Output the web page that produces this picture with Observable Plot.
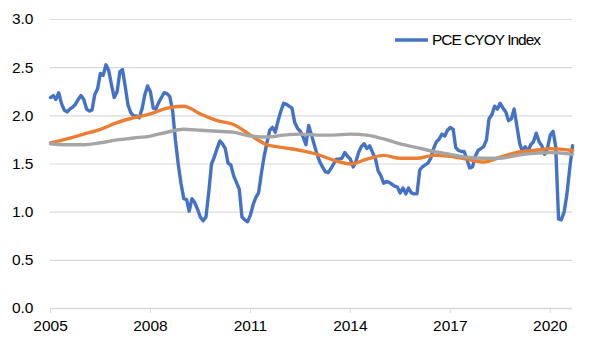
<!DOCTYPE html>
<html>
<head>
<meta charset="utf-8">
<script src="https://cdn.jsdelivr.net/npm/d3@7"></script>
<script src="https://cdn.jsdelivr.net/npm/@observablehq/plot@0.6"></script>
<style>
  body { margin: 0; background: #fff; font-family: "Liberation Sans", Arial, sans-serif; }
  #wrap { position: relative; width: 589px; height: 352px; }
  #legend { position: absolute; left: 395px; top: 31px; display: flex; align-items: center;
            font-size: 15.5px; letter-spacing: -1.0px; color: #000; white-space: nowrap; }
  #legend svg { margin-right: 4px; }
</style>
</head>
<body>
<div id="wrap">
  <div id="legend"><svg width="33" height="6"><line x1="0" y1="3" x2="33" y2="3" stroke="#4472C4" stroke-width="3.4"/></svg><span>PCE CYOY Index</span></div>
</div>
<script>
// PCE CYOY Index, monthly from Jan 2005
const pceStart = [2005, 0];
const pceValues = [
  2.19, 2.21, 2.17, 2.24, 2.13, 2.06, 2.04, 2.07, 2.09, 2.12, 2.17, 2.21,
  2.17, 2.07, 2.05, 2.06, 2.22, 2.28, 2.44, 2.42, 2.53, 2.47, 2.32, 2.19,
  2.25, 2.46, 2.48, 2.30, 2.11, 2.03, 2.00, 2.00, 1.98, 2.07, 2.22, 2.31,
  2.25, 2.08, 2.07, 2.14, 2.19, 2.24, 2.23, 2.20, 2.05, 1.75, 1.50, 1.30,
  1.14, 1.13, 1.01, 1.14, 1.10, 1.03, 0.95, 0.91, 0.95, 1.20, 1.50, 1.57,
  1.66, 1.74, 1.71, 1.66, 1.51, 1.49, 1.38, 1.31, 1.24, 0.95, 0.92, 0.90,
  0.97, 1.08, 1.15, 1.20, 1.40, 1.58, 1.72, 1.85, 1.88, 1.83, 1.95, 2.05,
  2.13, 2.12, 2.10, 2.08, 1.93, 1.87, 1.84, 1.78, 1.70, 1.90, 1.80, 1.70,
  1.60, 1.52, 1.47, 1.42, 1.41, 1.45, 1.50, 1.55, 1.55, 1.56, 1.62, 1.58,
  1.55, 1.47, 1.52, 1.62, 1.68, 1.71, 1.66, 1.69, 1.62, 1.56, 1.43, 1.38,
  1.30, 1.32, 1.31, 1.29, 1.27, 1.26, 1.20, 1.25, 1.19, 1.25, 1.20, 1.19,
  1.19, 1.44, 1.47, 1.49, 1.51, 1.56, 1.66, 1.73, 1.76, 1.81, 1.79, 1.85,
  1.88, 1.86, 1.67, 1.64, 1.63, 1.63, 1.55, 1.46, 1.47, 1.58, 1.64, 1.66,
  1.68, 1.75, 1.97, 2.01, 2.10, 2.07, 2.13, 2.08, 2.04, 1.95, 1.97, 2.07,
  1.89, 1.71, 1.63, 1.68, 1.63, 1.70, 1.73, 1.82, 1.73, 1.69, 1.60, 1.66,
  1.80, 1.84, 1.68, 0.93, 0.92, 1.00, 1.18, 1.45, 1.69
];

// Smooth comparison series, read every half year
const smoothYears = [
  2005.0, 2005.5, 2006.0, 2006.5, 2007.0, 2007.5, 2008.0, 2008.5, 2009.0, 2009.5,
  2010.0, 2010.5, 2011.0, 2011.5, 2012.0, 2012.5, 2013.0, 2013.5, 2014.0, 2014.5,
  2015.0, 2015.5, 2016.0, 2016.5, 2017.0, 2017.5, 2018.0, 2018.5, 2019.0, 2019.5,
  2020.0, 2020.67
];
const orangeValues = [
  1.72, 1.76, 1.81, 1.86, 1.93, 1.98, 2.02, 2.08, 2.10, 2.02,
  1.95, 1.91, 1.80, 1.70, 1.67, 1.64, 1.60, 1.54, 1.50, 1.55,
  1.59, 1.56, 1.56, 1.59, 1.58, 1.55, 1.52, 1.57, 1.62, 1.64,
  1.66, 1.64
];
const grayValues = [
  1.71, 1.70, 1.70, 1.72, 1.75, 1.77, 1.79, 1.83, 1.86, 1.85,
  1.84, 1.83, 1.79, 1.78, 1.80, 1.81, 1.80, 1.80, 1.81, 1.80,
  1.76, 1.71, 1.67, 1.63, 1.60, 1.57, 1.56, 1.56, 1.59, 1.61,
  1.62, 1.60
];

const xTickYears = [2005, 2008, 2011, 2014, 2017, 2020];
const yTicks = [0, 0.5, 1.0, 1.5, 2.0, 2.5, 3.0];

const monthDate = (y, m) => new Date(Date.UTC(y, m, 1));
const fracDate = (yf) => {
  const y = Math.floor(yf);
  const m = Math.round((yf - y) * 12);
  return monthDate(y, m);
};

const pce = pceValues.map((v, i) => ({ date: monthDate(pceStart[0], pceStart[1] + i), value: v }));
const orange = smoothYears.map((y, i) => ({ date: fracDate(y), value: orangeValues[i] }));
const gray = smoothYears.map((y, i) => ({ date: fracDate(y), value: grayValues[i] }));

const chart = Plot.plot({
  width: 589,
  height: 352,
  marginLeft: 50,
  marginRight: 17,
  marginTop: 19,
  marginBottom: 44,
  style: { fontFamily: "Liberation Sans, Arial, sans-serif", fontSize: "15.5px", color: "#000", background: "#fff" },
  x: {
    type: "utc",
    domain: [monthDate(2005, 0), monthDate(2020, 8)],
    ticks: xTickYears.map(y => monthDate(y, 0)),
    tickFormat: d3.utcFormat("%Y"),
    label: null
  },
  y: {
    domain: [0, 3],
    ticks: yTicks,
    tickFormat: d3.format(".1f"),
    label: null
  },
  marks: [
    Plot.gridY(yTicks, { stroke: "#d9d9d9", strokeOpacity: 1, strokeWidth: 1.2 }),
    Plot.axisY({ ticks: yTicks, tickSize: 0, tickPadding: 17, tickFormat: d3.format(".1f"), fill: "#000" }),
    Plot.axisX({ ticks: xTickYears.map(y => monthDate(y, 0)), tickFormat: d3.utcFormat("%Y"), tickSize: 5, tickPadding: 6, stroke: "#d9d9d9", fill: "#000" }),
    Plot.ruleY([0], { stroke: "#d9d9d9", strokeWidth: 1.5 }),
    Plot.line(pce, { x: "date", y: "value", stroke: "#4472C4", strokeWidth: 3.4, curve: "linear" }),
    Plot.line(orange, { x: "date", y: "value", stroke: "#ED7D31", strokeWidth: 3.4, curve: "monotone-x" }),
    Plot.line(gray, { x: "date", y: "value", stroke: "#A5A5A5", strokeWidth: 3.4, curve: "monotone-x" })
  ]
});
document.getElementById("wrap").prepend(chart);
chart.style.position = "absolute";
chart.style.left = "0";
chart.style.top = "0";
</script>
</body>
</html>
